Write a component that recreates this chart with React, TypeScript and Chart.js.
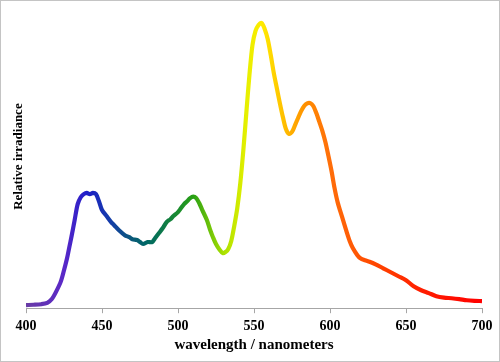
import React, { useEffect, useRef } from "react";
import { Chart, registerables } from "chart.js";

Chart.register(...registerables);

const wavelengths = [
  400, 405, 410, 414, 417, 420, 423, 425, 427, 428.5, 430, 432, 434, 436, 438, 440, 442, 444, 446, 448,
  450, 453, 456, 458, 461, 465, 468, 470, 473, 475, 477, 480, 483, 485, 487, 490, 492.5, 495, 497, 500,
  502, 504, 506, 508, 510, 512, 514, 516, 519, 521, 523, 525, 527.5, 529.5, 531, 533, 535, 537, 539, 541,
  543, 545, 547, 549, 551, 553, 555, 557, 559, 561, 563, 565, 567, 569, 571, 573, 575, 577, 579, 581,
  583, 585, 587, 589, 591, 593, 595, 597, 599, 601, 603, 605, 608, 611, 613, 615, 618, 620, 623, 626,
  630, 635, 640, 645, 650, 655, 660, 665, 670, 675, 680, 685, 690, 695, 700,
];

const irradiance = [
  0.011, 0.012, 0.014, 0.019, 0.032, 0.06, 0.095, 0.133, 0.175, 0.214, 0.253, 0.309, 0.365, 0.389, 0.4, 0.404, 0.4, 0.404, 0.4, 0.375,
  0.344, 0.323, 0.302, 0.291, 0.274, 0.256, 0.249, 0.242, 0.239, 0.232, 0.225, 0.232, 0.232, 0.246, 0.26, 0.281, 0.302, 0.312, 0.323, 0.337,
  0.351, 0.365, 0.375, 0.386, 0.391, 0.386, 0.368, 0.344, 0.309, 0.277, 0.249, 0.225, 0.204, 0.193, 0.196, 0.207, 0.235, 0.288, 0.351, 0.439,
  0.554, 0.688, 0.818, 0.923, 0.972, 0.993, 1.0, 0.979, 0.944, 0.888, 0.825, 0.772, 0.719, 0.67, 0.628, 0.611, 0.618, 0.642, 0.667, 0.691,
  0.709, 0.718, 0.719, 0.709, 0.684, 0.653, 0.621, 0.582, 0.533, 0.481, 0.421, 0.372, 0.319, 0.267, 0.235, 0.211, 0.186, 0.175, 0.168, 0.163,
  0.154, 0.14, 0.126, 0.112, 0.098, 0.077, 0.063, 0.053, 0.042, 0.037, 0.035, 0.032, 0.028, 0.026, 0.025,
];

const xTicks = [400, 450, 500, 550, 600, 650, 700];

// spectral colour stops (wavelength -> colour)
const colorStopNm = [400, 425, 440, 455, 470, 480, 495, 510, 530, 545, 555, 570, 585, 600, 630, 660, 700];
const colorStopRgb = [
  "rgb(105,60,165)", "rgb(90,40,200)", "rgb(30,30,200)", "rgb(20,60,170)", "rgb(10,90,120)", "rgb(0,105,100)",
  "rgb(20,130,60)", "rgb(40,160,20)", "rgb(170,225,0)", "rgb(230,240,0)", "rgb(255,235,0)", "rgb(255,190,0)",
  "rgb(255,140,0)", "rgb(255,110,10)", "rgb(255,70,0)", "rgb(255,30,0)", "rgb(255,0,0)",
];

const FONT = "'Liberation Serif', 'Times New Roman', serif";

export default function App() {
  const ref = useRef<HTMLCanvasElement | null>(null);

  useEffect(() => {
    const canvas = ref.current;
    if (!canvas) return;
    const points = wavelengths.map((w, i) => ({ x: w, y: irradiance[i] }));
    const chart = new Chart(canvas, {
      type: "line",
      data: {
        datasets: [
          {
            data: points,
            borderWidth: 4.2,
            pointRadius: 0,
            tension: 0.3,
            fill: false,
            borderColor: (ctx: any) => {
              const c = ctx.chart;
              const area = c.chartArea;
              if (!area) return "#000";
              const xs = c.scales.x;
              const x0 = xs.getPixelForValue(400);
              const x1 = xs.getPixelForValue(700);
              const g = c.ctx.createLinearGradient(x0, 0, x1, 0);
              colorStopNm.forEach((nm, i) => {
                g.addColorStop((nm - 400) / 300, colorStopRgb[i]);
              });
              return g;
            },
          },
        ],
      },
      options: {
        animation: false,
        responsive: false,
        layout: { padding: { left: 6, right: 17, top: 4, bottom: 6 } },
        plugins: { legend: { display: false }, tooltip: { enabled: false } },
        scales: {
          x: {
            type: "linear",
            min: 400,
            max: 700,
            afterBuildTicks: (s: any) => {
              s.ticks = xTicks.map((v) => ({ value: v }));
            },
            grid: {
              display: true,
              drawOnChartArea: false,
              drawTicks: true,
              tickLength: 5,
              color: "#a6a6a6",
            },
            border: { display: true, color: "#a6a6a6", width: 1 },
            ticks: {
              color: "#000",
              font: { family: FONT, size: 14, weight: "bold" },
              padding: 5,
              maxRotation: 0,
            },
            title: {
              display: true,
              text: "wavelength / nanometers",
              color: "#000",
              font: { family: FONT, size: 15, weight: "bold", lineHeight: 1 },
              padding: { top: -2, bottom: 2 },
            },
          },
          y: {
            min: 0,
            max: 1.063,
            grid: { display: false },
            border: { display: false },
            ticks: { display: false },
            afterFit: (s: any) => {
              s.width = 19;
            },
            title: {
              display: true,
              text: "Relative irradiance",
              color: "#000",
              font: { family: FONT, size: 13, weight: "bold" },
              padding: { top: 4, bottom: 0 },
            },
          },
        },
      },
    });
    return () => chart.destroy();
  }, []);

  return (
    <div
      style={{
        position: "absolute",
        left: 0,
        top: 0,
        width: 500,
        height: 362,
        boxSizing: "border-box",
        border: "1px solid #c4c4c4",
        background: "#fff",
      }}
    >
      <canvas ref={ref} width={498} height={360} style={{ display: "block" }} />
    </div>
  );
}
